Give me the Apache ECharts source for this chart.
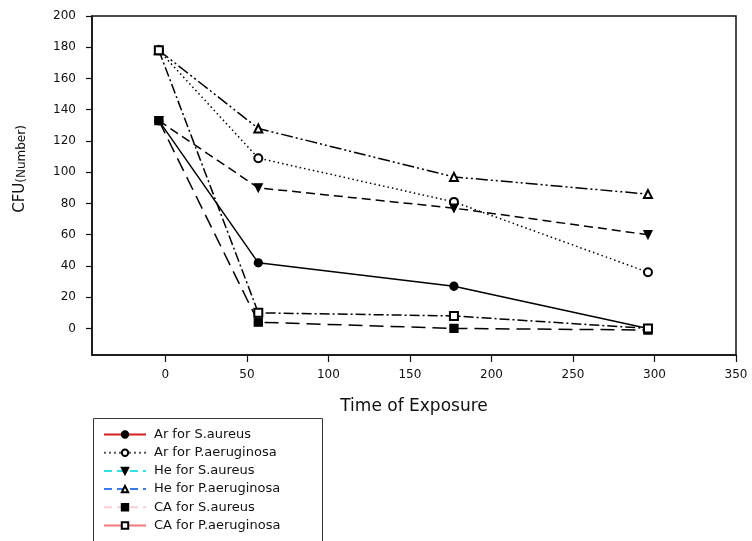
<!DOCTYPE html>
<html>
<head>
<meta charset="utf-8">
<script src="https://cdn.jsdelivr.net/npm/echarts@6/dist/echarts.min.js"></script>
<style>html,body{margin:0;padding:0;background:#fff}#c{width:752px;height:541px}</style>
</head>
<body>
<div id="c"></div>
<script>
// Data
const timePoints = [-4, 57, 177, 296];
const arSaureus = [133, 42, 27, 0];
const arPaeruginosa = [178, 109, 81, 36];
const heSaureus = [133, 90, 77, 60];
const hePaeruginosa = [178, 128, 97, 86];
const caSaureus = [133, 4, 0, -1];
const caPaeruginosa = [178, 10, 8, 0];
const seriesNames = ['Ar for S.aureus', 'Ar for P.aeruginosa', 'He for S.aureus', 'He for P.aeruginosa', 'CA for S.aureus', 'CA for P.aeruginosa'];
const xTickValues = [0, 50, 100, 150, 200, 250, 300, 350];
const yTickValues = [0, 20, 40, 60, 80, 100, 120, 140, 160, 180, 200];

const FONT = 'DejaVu Sans';
const pairs = vals => timePoints.map((t, i) => [t, vals[i]]);

const styles = [
  {data: arSaureus, symbol: 'circle', rotate: 0, dash: 'solid', legendColor: '#d42020', legendType: 'solid'},
  {data: arPaeruginosa, symbol: 'emptyCircle', rotate: 0, dash: [1.5, 3], legendColor: '#555', legendType: [2, 3]},
  {data: heSaureus, symbol: 'triangle', rotate: 180, dash: [9, 5], legendColor: '#33e0e0', legendType: [8, 5]},
  {data: hePaeruginosa, symbol: 'emptyTriangle', rotate: 0, dash: [12, 3, 2, 3, 2, 3], legendColor: '#3a7de8', legendType: [8, 5]},
  {data: caSaureus, symbol: 'rect', rotate: 0, dash: [14, 7], legendColor: '#fbd0d4', legendType: [8, 5]},
  {data: caPaeruginosa, symbol: 'emptyRect', rotate: 0, dash: [10, 3, 2, 3], legendColor: '#f47a7a', legendType: 'solid'}
];

const chart = echarts.init(document.getElementById('c'), null, {renderer: 'canvas'});
chart.setOption({
  animation: false,
  backgroundColor: '#fff',
  grid: {left: 92, right: 16, top: 16, bottom: 186, show: true, borderColor: '#111', borderWidth: 1.5, backgroundColor: 'transparent'},
  xAxis: {
    type: 'value', min: -45, max: 350,
    axisLine: {show: true, onZero: false, lineStyle: {color: '#111', width: 1.5}},
    axisTick: {show: true, inside: false, length: 7, customValues: xTickValues, lineStyle: {color: '#111', width: 1.2}},
    axisLabel: {customValues: xTickValues, margin: 14, color: '#111', fontFamily: FONT, fontSize: 12},
    splitLine: {show: false},
    name: 'Time of Exposure', nameLocation: 'middle', nameGap: 43,
    nameTextStyle: {color: '#111', fontFamily: FONT, fontSize: 17}
  },
  yAxis: {
    type: 'value', min: -17, max: 200,
    axisLine: {show: true, onZero: false, lineStyle: {color: '#111', width: 1.5}},
    axisTick: {show: true, inside: false, length: 6, customValues: yTickValues, lineStyle: {color: '#111', width: 1.2}},
    axisLabel: {customValues: yTickValues, margin: 16, color: '#111', fontFamily: FONT, fontSize: 12},
    splitLine: {show: false}
  },
  legend: {
    orient: 'vertical', left: 98, top: 420.4, height: 200,
    itemWidth: 42, itemHeight: 8, itemGap: 0,
    textStyle: {color: '#111', fontFamily: FONT, fontSize: 13, lineHeight: 18.2, padding: [0, 0, 0, 3]},
    data: seriesNames.map((n, i) => ({
      name: n,
      itemStyle: {color: '#000', borderColor: '#000'},
      lineStyle: {color: styles[i].legendColor, type: styles[i].legendType, width: 2}
    }))
  },
  graphic: [
    {
      type: 'text', x: 20, y: 169, rotation: Math.PI / 2,
      style: {
        text: '{a|CFU}{b|(Number)}', x: 0, y: 0, align: 'center', verticalAlign: 'middle',
        rich: {
          a: {fontFamily: FONT, fontSize: 15, fill: '#111', color: '#111', verticalAlign: 'bottom'},
          b: {fontFamily: FONT, fontSize: 12, fill: '#111', color: '#111', verticalAlign: 'bottom'}
        }
      }
    },
    {
      type: 'rect', shape: {x: 93.5, y: 418.5, width: 229, height: 140},
      style: {fill: 'none', stroke: '#333', lineWidth: 1}, silent: true
    }
  ],
  series: styles.map((s, i) => ({
    name: seriesNames[i],
    type: 'line',
    data: pairs(s.data),
    symbol: s.symbol,
    symbolRotate: s.rotate,
    symbolSize: 8,
    showAllSymbol: true,
    z: 2 + i,
    itemStyle: {color: '#000', borderColor: '#000', borderWidth: 1.3},
    lineStyle: {color: '#000', width: 1.5, type: s.dash}
  }))
});
</script>
</body>
</html>
